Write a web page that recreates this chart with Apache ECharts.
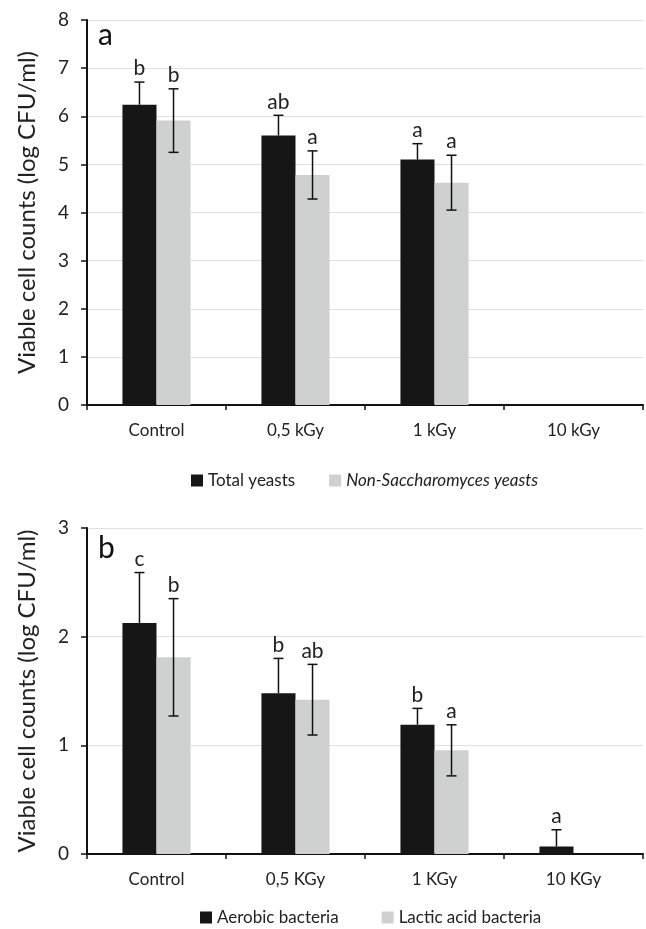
<!DOCTYPE html>
<html><head><meta charset="utf-8">
<script src="https://cdn.jsdelivr.net/npm/echarts@6/dist/echarts.min.js"></script>
<style>html,body{margin:0;padding:0;background:#fff}#c{width:646px;height:929px}</style>
</head><body><div id="c"></div>
<script>
// ---- data ----
const catsA = ['Control', '0,5 kGy', '1 kGy', '10 kGy'];
const catsB = ['Control', '0,5 KGy', '1 KGy', '10 KGy'];
const namesA = ['Total yeasts', 'Non-Saccharomyces yeasts'];
const namesB = ['Aerobic bacteria', 'Lactic acid bacteria'];
const totalYeasts = [6.24, 5.60, 5.10, 0];
const totalYeastsErr = [0.47, 0.42, 0.33, 0];
const nonSacch = [5.91, 4.78, 4.62, 0];
const nonSacchErr = [0.66, 0.50, 0.57, 0];
const lettersTotal = ['b', 'ab', 'a', ''];
const lettersNonSacch = ['b', 'a', 'a', ''];
const aerobic = [2.125, 1.48, 1.19, 0.068];
const aerobicErr = [0.465, 0.32, 0.15, 0.155];
const lactic = [1.81, 1.42, 0.954, 0];
const lacticErr = [0.54, 0.325, 0.235, 0];
const lettersAerobic = ['c', 'b', 'b', 'a'];
const lettersLactic = ['b', 'ab', 'a', ''];
const yTicksA = {min: 0, max: 8, interval: 1};
const yTicksB = {min: 0, max: 3, interval: 1};

const BLACK = '#161616', GREY = '#cfd0d0';
const FONT = 'Lato';
const CAT_GAP = 0.51;

function errSeries(gi, vals, errs, letters, side) {
  return {
    type: 'custom', xAxisIndex: gi, yAxisIndex: gi, z: 5,
    data: vals.map((v, i) => [i, v, errs[i]]),
    renderItem: function (params, api) {
      const i = api.value(0), v = api.value(1), e = api.value(2);
      const letter = letters[i];
      const cw = api.size([1, 0])[0];
      const off = side * (1 - CAT_GAP) * cw / 4;
      const top = api.coord([i, v + e]);
      const mid = api.coord([i, v]);
      const bot = api.coord([i, Math.max(v - e, 0)]);
      const x = top[0] + off;
      const children = [];
      if (e > 0) {
        const st = {stroke: '#111', lineWidth: 1.5};
        const lowY = side < 0 ? mid[1] : bot[1];
        children.push({type: 'line', shape: {x1: x, y1: top[1], x2: x, y2: lowY}, style: st});
        children.push({type: 'line', shape: {x1: x - 5, y1: top[1], x2: x + 5, y2: top[1]}, style: st});
        if (side > 0) children.push({type: 'line', shape: {x1: x - 5, y1: bot[1], x2: x + 5, y2: bot[1]}, style: st});
      }
      if (letter) {
        children.push({type: 'text', x: x, y: top[1] - 3,
          style: {text: letter, fill: '#222', font: '21px ' + FONT, align: 'center', verticalAlign: 'bottom'}});
      }
      return {type: 'group', children: children};
    }
  };
}

function barSeries(gi, name, vals, color) {
  return {type: 'bar', name: name, xAxisIndex: gi, yAxisIndex: gi, data: vals,
    barGap: '0%', barCategoryGap: (CAT_GAP * 100) + '%',
    itemStyle: {color: color}, emphasis: {disabled: true}};
}

function xAxis(gi, cats) {
  return {type: 'category', gridIndex: gi, data: cats,
    axisLine: {lineStyle: {color: '#111', width: 2}},
    axisTick: {show: true, length: 5, lineStyle: {color: '#111', width: 1.5}},
    axisLabel: {color: '#222', fontSize: 17, fontFamily: FONT, margin: 17}};
}
function yAxis(gi, t) {
  return {type: 'value', gridIndex: gi, min: t.min, max: t.max, interval: t.interval,
    name: 'Viable cell counts (log CFU/ml)', nameLocation: 'middle', nameGap: 48,
    nameTextStyle: {color: '#222', fontSize: 24, fontFamily: FONT},
    axisLine: {show: true, lineStyle: {color: '#111', width: 2}},
    axisTick: {show: true, length: 6, lineStyle: {color: '#111', width: 1.5}},
    axisLabel: {color: '#222', fontSize: 19, fontFamily: FONT, margin: 18},
    splitLine: {show: true, lineStyle: {color: '#e0e0e0', width: 1}}};
}

const chart = echarts.init(document.getElementById('c'), null, {renderer: 'canvas'});
chart.setOption({
  animation: false,
  grid: [
    {left: 87, right: 3, top: 20, height: 385},
    {left: 87, right: 3, top: 528, height: 326}
  ],
  xAxis: [xAxis(0, catsA), xAxis(1, catsB)],
  yAxis: [yAxis(0, yTicksA), yAxis(1, yTicksB)],
  legend: [
    {data: namesA, left: 186, top: 467, itemWidth: 12, itemHeight: 12, itemGap: 34,
      icon: 'rect',
      textStyle: {color: '#222', fontSize: 17, fontFamily: FONT, rich: {i: {fontStyle: 'italic', fontSize: 17, fontFamily: FONT, color: '#222'}}},
      formatter: n => n === namesA[1] ? '{i|' + n + '}' : n},
    {data: namesB, left: 195, top: 904, itemWidth: 12, itemHeight: 12, itemGap: 43,
      icon: 'rect',
      textStyle: {color: '#222', fontSize: 17, fontFamily: FONT}}
  ],
  graphic: [
    {type: 'text', left: 98, top: 20, style: {text: 'a', font: '30px ' + FONT, fill: '#111'}},
    {type: 'text', left: 98, top: 533, style: {text: 'b', font: '30px ' + FONT, fill: '#111'}}
  ],
  series: [
    barSeries(0, namesA[0], totalYeasts, BLACK),
    barSeries(0, namesA[1], nonSacch, GREY),
    barSeries(1, namesB[0], aerobic, BLACK),
    barSeries(1, namesB[1], lactic, GREY),
    errSeries(0, totalYeasts, totalYeastsErr, lettersTotal, -1),
    errSeries(0, nonSacch, nonSacchErr, lettersNonSacch, 1),
    errSeries(1, aerobic, aerobicErr, lettersAerobic, -1),
    errSeries(1, lactic, lacticErr, lettersLactic, 1)
  ]
});
</script></body></html>
